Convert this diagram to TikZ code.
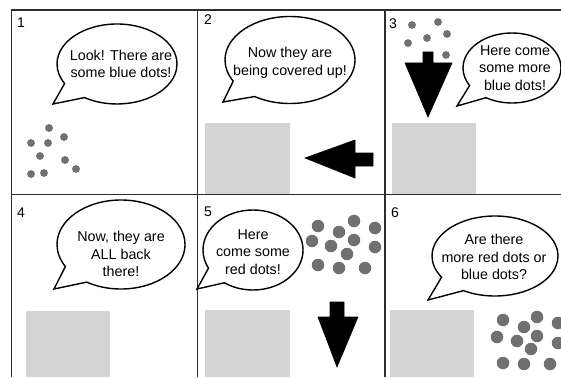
\documentclass[tikz,border=0pt]{standalone}
\usepackage{fontspec}
\setmainfont{Liberation Sans}
\usetikzlibrary{shapes.callouts}
\definecolor{dotgray}{RGB}{112,112,112}
\definecolor{boxgray}{RGB}{212,212,212}
\definecolor{gridgray}{RGB}{45,45,45}
\begin{document}
\begin{tikzpicture}[x=1pt,y=-1pt,
  bubble/.style={ellipse callout, draw=black, line width=1.4pt, fill=white, inner sep=0pt, callout pointer arc=28},
  txt/.style={align=center, font=\fontsize{14.3}{17.5}\selectfont, inner sep=0pt},
  num/.style={font=\fontsize{14}{16}\selectfont, inner sep=0pt},
  dotA/.style={circle, fill=dotgray, inner sep=0pt, minimum size=7.8pt},
  dotB/.style={circle, fill=dotgray, inner sep=0pt, minimum size=12.5pt},
  cover/.style={fill=boxgray, draw=none},
  gridline/.style={draw=gridgray, line width=1.8pt},
  bigarrow/.style={fill=black, draw=black, line width=0.6pt, line join=miter}]
\useasboundingbox (0,0) rectangle (561,377);
\fill[white] (0,0) rectangle (561,377);

% grey covers
\fill[cover] (205,123) rectangle (290,194);
\fill[cover] (392,123) rectangle (476,194);
\fill[cover] (26,311) rectangle (110,377);
\fill[cover] (205,310) rectangle (290,377);
\fill[cover] (390,310) rectangle (474,377);

% grid
\draw[gridline] (11.5,377) -- (11.5,10) -- (561,10);
\draw[gridline] (11.5,194.5) -- (561,194.5);
\draw[gridline] (197.5,10) -- (197.5,377);
\draw[gridline] (385,10) -- (385,377);

% panel numbers
\node[num] (n1) at (21,23) {1};
\node[num] (n2) at (208,20) {2};
\node[num] (n3) at (393,24) {3};
\node[num] (n4) at (21,213) {4};
\node[num] (n5) at (208,212) {5};
\node[num] (n6) at (395,213) {6};

% tail tips
\coordinate (tip1) at (53,104);
\coordinate (tip2) at (223,102);
\coordinate (tip3) at (457,106);
\coordinate (tip4) at (54,289);
\coordinate (tip5) at (197,289);
\coordinate (tip6) at (428,300);

% bubbles
\node[bubble, minimum width=120pt, minimum height=80pt, callout absolute pointer={(tip1)}] (b1) at (117,64) {};
\node[txt] (t1) at (121,64) {Look! There are\\some blue dots!};
\node[bubble, minimum width=130pt, minimum height=87pt, callout absolute pointer={(tip2)}] (b2) at (290,60) {};
\node[txt] (t2) at (290,63) {Now they are\\being covered up!};
\node[bubble, minimum width=98pt, minimum height=70pt, callout absolute pointer={(tip3)}] (b3) at (512,68) {};
\node[txt] (t3) at (515,68) {Here come\\some more\\blue dots!};
\node[bubble, minimum width=128pt, minimum height=89pt, callout absolute pointer={(tip4)}] (b4) at (121,244.5) {};
\node[txt] (t4) at (121,254) {Now, they are\\ALL back\\there!};
\node[bubble, minimum width=100pt, minimum height=80pt, callout absolute pointer={(tip5)}] (b5) at (253,250) {};
\node[txt] (t5) at (253,252) {Here\\come some\\red dots!};
\node[bubble, minimum width=126pt, minimum height=80pt, callout absolute pointer={(tip6)}] (b6) at (495,256) {};
\node[txt] (t6) at (494,257) {Are there\\more red dots or\\blue dots?};

% dots panel 1
\foreach \p [count=\i] in {(49,128),(64,137),(31,143),(48,143),(40,156),(65,160),(76,169),(31,174),(44,173)}
  \node[dotA] (da\i) at \p {};
% dots panel 3
\foreach \p [count=\i] in {(412,25),(438,22),(447,34),(427,38),(408,43),(446,55)}
  \node[dotA] (dc\i) at \p {};
% dots panel 5
\foreach \p [count=\i] in {(318,226),(354,221),(375,228),(339,232),(312,241),(354,240),(331,246),(375,247),(347,254),(318,265),(339,268),(365,268)}
  \node[dotB] (de\i) at \p {};
% dots panel 6
\foreach \p [count=\i] in {(503,320),(537,317),(524,327),(558,323),(497,337),(517,341),(537,336),(558,343),(531,349),(503,363),(524,364),(550,364)}
  \node[dotB] (df\i) at \p {};

% arrows
\filldraw[bigarrow] (305,158) -- (355,140) -- (355,153) -- (373,153) -- (373,166) -- (355,166) -- (355,178) -- cycle;
\filldraw[bigarrow] (428,117) -- (405,63) -- (423,63) -- (423,52) -- (433,52) -- (433,63) -- (452,63) -- cycle;
\filldraw[bigarrow] (337,367) -- (318,317) -- (330,317) -- (330,302) -- (344,302) -- (344,317) -- (358,317) -- cycle;
\end{tikzpicture}
\end{document}
